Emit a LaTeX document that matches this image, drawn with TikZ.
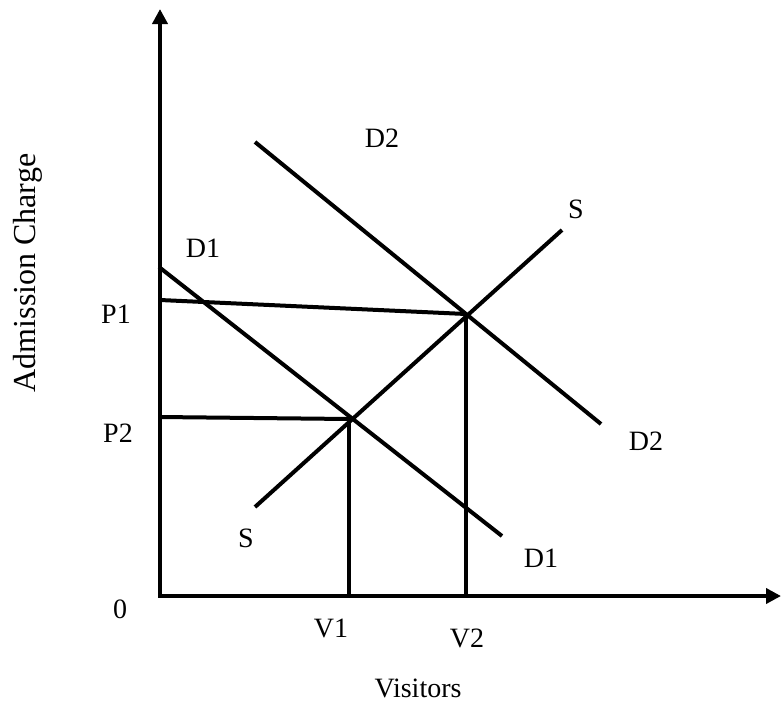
\documentclass[tikz,border=0pt]{standalone}
\usepackage{fontspec}
\setmainfont{Liberation Serif}
\usepackage{tikz}
\usetikzlibrary{arrows.meta,positioning,calc}

\begin{document}
\begin{tikzpicture}[
  x=1pt, y=-1pt,
  curve/.style={line width=4pt},
  axis/.style={line width=4pt, -{Triangle[length=15pt, width=15pt]}},
  lbl/.style={anchor=base, inner sep=0pt, font=\fontsize{28}{30}\selectfont},
  >=Stealth
]
\useasboundingbox (0,0) rectangle (781,702);

% Axes
\coordinate (origin) at (160, 596);
\coordinate (ytop) at (160, 9);
\coordinate (xend) at (781, 596);
\draw[axis] (origin) -- (ytop);
\draw[axis] ([xshift=-2pt]origin) -- (xend);

% Curve end points
\coordinate (d1a) at (159, 267);
\coordinate (d1b) at (502, 536);
\coordinate (d2a) at (255, 142);
\coordinate (d2b) at (601, 424);
\coordinate (sa) at (255, 507);
\coordinate (sb) at (562, 230);

% Equilibrium points
\coordinate (eq1) at (349, 419);
\coordinate (eq2) at (466, 314);
\coordinate (p1) at (160, 300);
\coordinate (p2) at (160, 417);

% Demand and supply
\draw[curve] (d1a) -- (d1b);
\draw[curve] (d2a) -- (d2b);
\draw[curve] (sa) -- (sb);

% Price lines and quantity lines
\draw[curve] (p1) -- (eq2);
\draw[curve] (p2) -- (eq1);
\draw[curve] (eq1) -- (eq1 |- origin);
\draw[curve] (eq2) -- (eq2 |- origin);

% Labels
\node[lbl] (labd2top) at (382, 147) {D2};
\node[lbl] (labstop) at (576, 218) {S};
\node[lbl] (labd1top) at (203, 257) {D1};
\node[lbl] (labp1) at (116, 323) {P1};
\node[lbl] (labp2) at (118, 442) {P2};
\node[lbl] (labd2bot) at (646, 450) {D2};
\node[lbl] (labsbot) at (246, 547) {S};
\node[lbl] (labd1bot) at (541, 567) {D1};
\node[lbl] (labzero) at (120, 618) {0};
\node[lbl] (labv1) at (331, 637) {V1};
\node[lbl] (labv2) at (467, 647) {V2};
\node[lbl] (labx) at (418, 697) {Visitors};
\node[lbl, rotate=90, font=\fontsize{32}{34}\selectfont] (laby) at (35, 273) {Admission Charge};

\end{tikzpicture}
\end{document}
